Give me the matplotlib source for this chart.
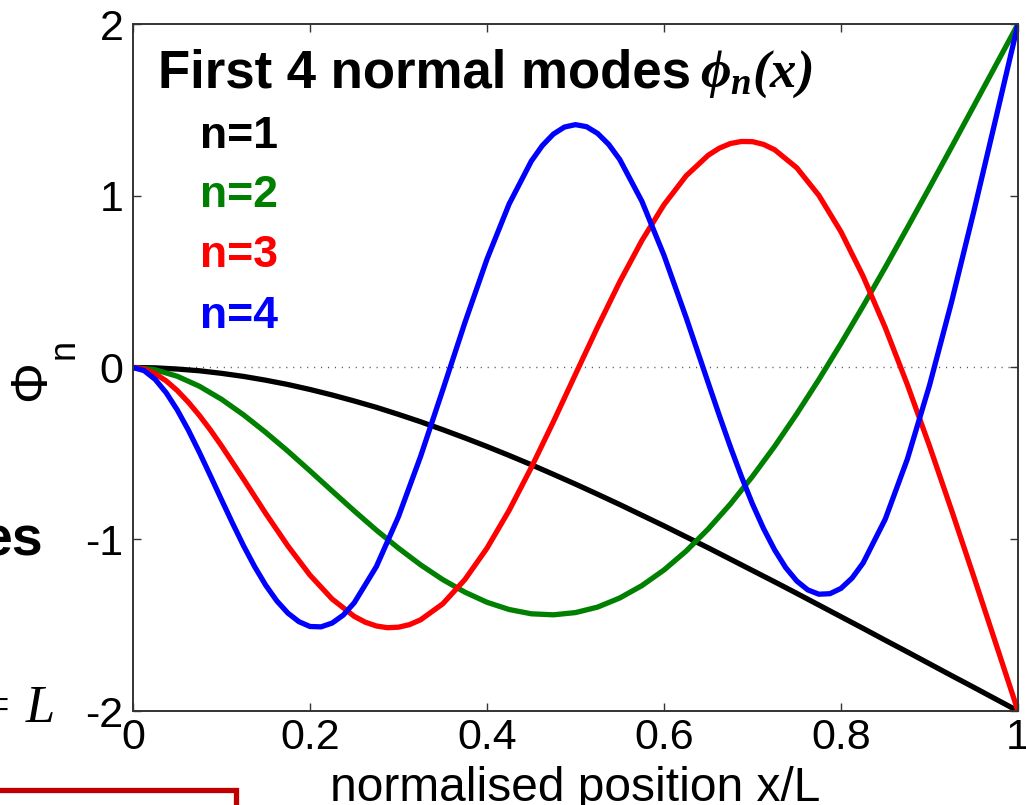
import numpy as np
import matplotlib
matplotlib.use("Agg")
import matplotlib.pyplot as plt
from matplotlib.patches import Rectangle

# ---- data: first four cantilever mode shapes phi_n(x/L) ----
# modes 1 and 2 are sampled every 0.025; modes 3 and 4 get extra samples
# where they bend most sharply
x12 = np.linspace(0.0, 1.0, 41)

phi1 = [0, -0.002, -0.009, -0.019, -0.034, -0.052, -0.074, -0.099, -0.128, -0.160,
        -0.195, -0.232, -0.273, -0.316, -0.362, -0.410, -0.460, -0.512, -0.566, -0.622,
        -0.679, -0.738, -0.798, -0.860, -0.922, -0.986, -1.050, -1.116, -1.182, -1.248,
        -1.315, -1.383, -1.451, -1.519, -1.588, -1.656, -1.725, -1.794, -1.862, -1.931,
        -2.000]

phi2 = [0, -0.013, -0.051, -0.109, -0.185, -0.276, -0.378, -0.487, -0.602, -0.719,
        -0.835, -0.947, -1.052, -1.149, -1.235, -1.308, -1.367, -1.409, -1.434, -1.440,
        -1.427, -1.395, -1.342, -1.270, -1.179, -1.069, -0.940, -0.795, -0.634, -0.459,
        -0.270, -0.070, 0.140, 0.358, 0.583, 0.814, 1.048, 1.284, 1.522, 1.761,
        2.000]

x3 = [0, 0.0125, 0.025, 0.0375, 0.05, 0.0625, 0.075, 0.0875, 0.1, 0.125,
      0.15, 0.175, 0.2, 0.225, 0.25, 0.2625, 0.275, 0.2875, 0.3, 0.3125,
      0.325, 0.35, 0.375, 0.4, 0.425, 0.45, 0.475, 0.5, 0.525, 0.55,
      0.575, 0.6, 0.625, 0.65, 0.6625, 0.675, 0.6875, 0.7, 0.7125, 0.725,
      0.75, 0.775, 0.8, 0.825, 0.85, 0.875, 0.9, 0.925, 0.95, 0.975, 1.0]
phi3 = [0, -0.009, -0.036, -0.078, -0.134, -0.202, -0.279, -0.364, -0.456, -0.651,
        -0.850, -1.039, -1.209, -1.348, -1.449, -1.483, -1.505, -1.515, -1.512, -1.497,
        -1.469, -1.376, -1.235, -1.052, -0.832, -0.583, -0.316, -0.039, 0.236, 0.499,
        0.739, 0.948, 1.116, 1.236, 1.277, 1.304, 1.316, 1.315, 1.299, 1.268,
        1.163, 1.002, 0.790, 0.531, 0.232, -0.100, -0.457, -0.832, -1.217, -1.608,
        -2.000]

x4 = [0, 0.0125, 0.025, 0.0375, 0.05, 0.0625, 0.075, 0.0875, 0.1, 0.1125,
      0.125, 0.1375, 0.15, 0.1625, 0.175, 0.1875, 0.2, 0.2125, 0.225, 0.2375,
      0.25, 0.275, 0.3, 0.325, 0.35, 0.375, 0.4, 0.425, 0.45, 0.4625,
      0.475, 0.4875, 0.5, 0.5125, 0.525, 0.5375, 0.55, 0.575, 0.6, 0.625,
      0.65, 0.6625, 0.675, 0.6875, 0.7, 0.7125, 0.725, 0.7375, 0.75, 0.7625,
      0.775, 0.7875, 0.8, 0.8125, 0.825, 0.85, 0.875, 0.9, 0.925, 0.95,
      0.975, 1.0]
phi4 = [0, -0.018, -0.069, -0.147, -0.247, -0.364, -0.494, -0.631, -0.770, -0.907,
        -1.039, -1.160, -1.268, -1.359, -1.430, -1.480, -1.508, -1.510, -1.488, -1.442,
        -1.370, -1.159, -0.868, -0.517, -0.131, 0.261, 0.631, 0.952, 1.201, 1.292,
        1.359, 1.400, 1.414, 1.402, 1.363, 1.299, 1.211, 0.968, 0.653, 0.291,
        -0.090, -0.279, -0.462, -0.635, -0.795, -0.938, -1.062, -1.165, -1.243, -1.295,
        -1.320, -1.317, -1.286, -1.226, -1.138, -0.883, -0.533, -0.104, 0.383, 0.907,
        1.451, 2.000]

mode_labels = ["n=1", "n=2", "n=3", "n=4"]
mode_colors = ["black", (0, 0.5, 0), (1, 0, 0), (0, 0, 1)]

xticks = [0, 0.2, 0.4, 0.6, 0.8, 1]
xtick_labels = ["0", "0.2", "0.4", "0.6", "0.8", "1"]
yticks = [-2, -1, 0, 1, 2]
ytick_labels = ["-2", "-1", "0", "1", "2"]

# ---- style ----
plt.rcParams["font.family"] = ["Liberation Sans", "DejaVu Sans"]
plt.rcParams["axes.unicode_minus"] = False
plt.rcParams["mathtext.fontset"] = "custom"
plt.rcParams["mathtext.rm"] = "Liberation Serif:italic:bold"
plt.rcParams["mathtext.it"] = "Liberation Serif:italic:bold"
plt.rcParams["mathtext.bf"] = "Liberation Serif:italic:bold"

W, H = 1026, 805
fig = plt.figure(figsize=(W / 100, H / 100), dpi=100)


def fpos(px, py):
    """Pixel position (from top-left) -> figure fraction."""
    return px / W, 1 - py / H


ax = fig.add_axes([133 / W, (H - 711) / H, 885 / W, 687 / H])

ax.axhline(0, color="#555555", lw=1.0, dashes=(0.8, 4.2), zorder=1)
series = [(x12, phi1), (x12, phi2), (x3, phi3), (x4, phi4)]
for (xs, ys), c in zip(series, mode_colors):
    ax.plot(xs, ys, color=c, lw=3.8, solid_joinstyle="round",
            solid_capstyle="round", zorder=2)

ax.set_xlim(0, 1)
ax.set_ylim(-2, 2)
ax.set_xticks(xticks)
ax.set_xticklabels(xtick_labels)
ax.set_yticks(yticks)
ax.set_yticklabels(ytick_labels)
ax.tick_params(direction="in", length=6, width=1.0, color="#333333",
               top=True, right=True, labelsize=31, labelcolor="black")
ax.tick_params(axis="x", pad=5)
ax.tick_params(axis="y", pad=7)
for s in ax.spines.values():
    s.set_color("#333333")
    s.set_linewidth(1.4)

ax.set_xlabel("normalised position x/L", fontsize=34.5, va="baseline")
ax.xaxis.set_label_coords(0.5, (711 - 801) / 687)

# y label: Phi with a subscript n, MATLAB-style
ax.set_ylabel("\u03a6", fontsize=37, va="center", ha="center")
ax.yaxis.set_label_coords((32 - 133) / 885, (711 - 381) / 687)
fig.text(*fpos(64, 349), "n", fontsize=26, rotation=90,
         ha="center", va="center")

# in-plot heading and mode key
fig.text(*fpos(158, 87), "First 4 normal modes", fontsize=38, fontweight="bold",
         va="baseline", ha="left")
fig.text(*fpos(700, 87), r"$\phi_n(x)$", fontsize=38, va="baseline", ha="left")
for lab, c, yb in zip(mode_labels, mode_colors, [148, 207, 267, 328]):
    fig.text(*fpos(200, yb), lab, fontsize=32, fontweight="bold", color=c,
             va="baseline", ha="left")

# surrounding slide content at the left edge
fig.text(*fpos(44, 555), "es", fontsize=40, fontweight="bold",
         va="baseline", ha="right")
fig.text(*fpos(55, 722), "= L", fontsize=38, family="Liberation Serif",
         style="italic", va="baseline", ha="right")
fig.add_artist(Rectangle((-0.05, -0.05), 0.05 + 236 / W, 0.05 + (H - 789.5) / H,
                         transform=fig.transFigure, fill=False,
                         edgecolor="#c00000", lw=3.8, clip_on=False))

fig.savefig("out.png", dpi=100)
